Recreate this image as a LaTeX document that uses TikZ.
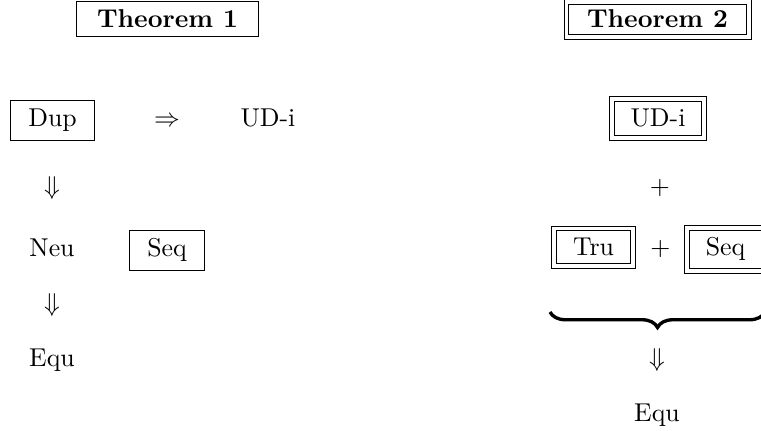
\documentclass[tikz,border=0pt]{standalone}
\usetikzlibrary{decorations.pathreplacing}
\tikzset{
  thmbox/.style={draw, anchor=base, inner xsep=8pt, inner ysep=3.3pt, font=\bfseries},
  sbox/.style={draw, anchor=base, inner xsep=7pt, inner ysep=3.4pt},
  dbox/.style={draw, anchor=base, double, double distance=1.5pt, inner xsep=7.3pt, inner ysep=3.9pt},
  txt/.style={anchor=base},
}
\begin{document}
\begin{tikzpicture}[x=0.3876pt,y=-0.3876pt]
\useasboundingbox (0,0) rectangle (761,431);
% left column
\node[thmbox] (thmA) at (167.5,28) {Theorem 1};
\node[sbox] (dupA) at (52.5,127) {Dup};
\node[txt] (impA) at (167,127) {$\Rightarrow$};
\node[txt] (udiA) at (268,127) {UD-i};
\node (dnA) at (52,188) {$\Downarrow$};
\node[txt] (neuA) at (52,257) {Neu};
\node[sbox] (seqA) at (167,257) {Seq};
\node (dnB) at (52,305) {$\Downarrow$};
\node[txt] (equA) at (52,366) {Equ};
% right column
\node[thmbox, double, double distance=1.5pt] (thmB) at (657.5,28) {Theorem 2};
\node[dbox] (udiB) at (658,127) {UD-i};
\node (plusA) at (660,188) {$+$};
\node[dbox] (truB) at (593.5,256) {Tru};
\node[txt] (plusB) at (660.5,256) {$+$};
\node[dbox] (seqB) at (725.5,256) {Seq};
\coordinate (brL) at (550,312);
\coordinate (brR) at (765,312);
\draw[decorate, decoration={brace, mirror, amplitude=6pt}, line width=1.3pt] (brL) -- (brR);
\node (dnC) at (657,360) {$\Downarrow$};
\node[txt] (equB) at (657,421) {Equ};
\end{tikzpicture}
\end{document}
